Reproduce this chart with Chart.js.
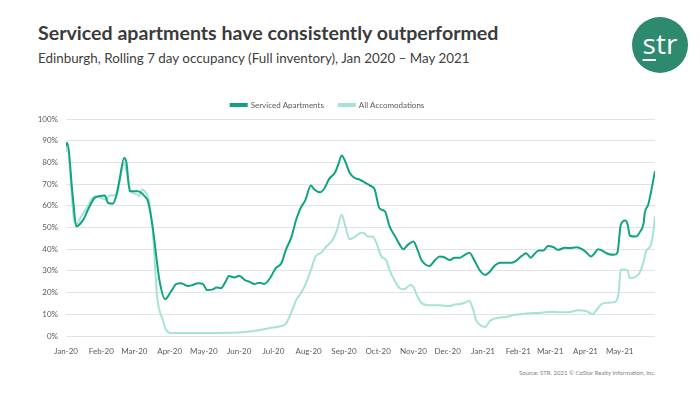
<!DOCTYPE html>
<html>
<head>
<meta charset="utf-8">
<script src="https://cdn.jsdelivr.net/npm/chart.js"></script>
<style>
  html, body { margin: 0; padding: 0; background: #fff; }
  body { width: 700px; height: 394px; position: relative; overflow: hidden; font-family: Lato, "Open Sans", sans-serif; }
  #title { position: absolute; left: 38px; top: 21px; font-size: 19.6px; font-weight: bold; color: #3b3b3b; white-space: nowrap; }
  #subtitle { position: absolute; left: 38px; top: 50px; font-size: 13.4px; color: #404040; white-space: nowrap; }
  #logo { position: absolute; left: 632px; top: 17px; width: 56px; height: 56px; border-radius: 50%; background: #2e8a6e; color: #fff;
          font-size: 28px; line-height: 52px; text-align: center; font-family: "Open Sans", sans-serif; }
  #logo u { text-decoration-thickness: 2px; text-underline-offset: 5px; }
  #source { position: absolute; left: 519px; top: 369px; font-size: 6px; color: #7f7f7f; white-space: nowrap; }
  #wrap { position: absolute; left: 0; top: 0; width: 700px; height: 394px; }
</style>
</head>
<body>
<div id="title">Serviced apartments have consistently outperformed</div>
<div id="subtitle">Edinburgh, Rolling 7 day occupancy (Full inventory), Jan 2020 – May 2021</div>
<div id="logo"><u>s</u>tr</div>
<div id="source">Source: STR. 2021 © CoStar Realty Information, Inc.</div>
<div id="wrap"><canvas id="chart" width="700" height="394"></canvas></div>
<script>
// days counted from 1 Jan 2020
const monthLabels = ['Jan-20','Feb-20','Mar-20','Apr-20','May-20','Jun-20','Jul-20','Aug-20','Sep-20','Oct-20','Nov-20','Dec-20','Jan-21','Feb-21','Mar-21','Apr-21','May-21'];
const monthStartDays = [0,31,60,91,121,152,182,213,244,274,305,335,366,397,425,456,486];

const servicedDays = [0,1,6,9,15,20,25,29,34,37,41,44,47,51,53,56,63,66,69,72,76,82,87,92,97,101,107,111,116,120,124,129,132,136,140,143,148,152,157,161,165,170,174,179,184,189,193,198,202,206,210,215,218,223,227,231,236,239,242,245,249,253,258,262,267,271,275,280,284,289,293,296,300,305,308,312,316,319,324,328,332,337,341,346,350,354,359,363,368,372,376,381,387,391,395,400,404,408,411,415,419,423,428,432,438,442,448,453,457,461,464,467,472,476,481,484,487,491,493,495,500,504,507,508,511,513,517];
const servicedVals = [87.5,89,64,50.5,53.5,59,63.6,64.4,64.7,61.3,61,64.4,72,82,80,66.7,66.7,66,64.4,62,50.5,25.8,17,20.4,24,24.3,23,23.5,24.3,24,21.2,21.5,22.4,22,25,27.6,27,27.8,25.8,25,24,24.5,24,26.6,31.2,33.5,39.7,45.8,53.6,59,62.5,69.3,67.5,66.2,68.2,72.4,75.2,79,83.2,80.6,75.2,72.9,72,70.8,69.3,67.5,59,57.4,50.5,45.8,42,40,42,43.5,40.5,35,32.7,32.3,35,36.6,36.3,35,36.1,36.1,37.4,38.4,34.3,30.4,28.1,29.6,32.3,33.8,33.8,33.8,34.6,36.9,38.1,36.1,37.7,39.4,39.4,41.5,40.9,39.7,40.7,40.5,40.9,40,38.4,36.6,38.1,40,38.9,37.8,37.4,38.4,51.3,53.2,51.3,46.2,45.8,48.1,52,56.7,60.5,65.1,76];

const allDays = [0,1,7,9,13,19,23,26,31,35,38,42,45,49,51,55,57,63,64,67,70,73,76,80,85,88,92,120,150,165,179,188,193,198,202,206,210,215,219,224,228,234,238,242,245,249,253,258,261,265,269,272,277,281,284,289,293,297,302,305,308,312,318,324,328,332,337,341,346,350,354,357,360,365,368,372,376,381,387,392,398,407,415,423,432,441,450,455,460,462,466,470,476,482,485,487,491,493,495,500,504,507,509,513,515,517];
const allVals = [84.7,87.5,53.6,51.5,54.8,59.7,63.6,64.4,63.6,62.8,64.7,64.7,65.9,76.7,79.8,70.6,66.7,65.1,64.4,67.5,66,62,49,18,7.3,2.6,1.4,1.4,1.6,2.3,3.7,4.5,5.7,11.1,16.5,19.6,23.5,30.4,36.6,38.4,40.9,44.3,49,55.9,51,44.6,45.5,47.4,47.6,45.8,45.8,43.5,36.6,35,30.4,25,22,21.5,23.5,22.7,18.8,15.3,14.2,14.2,14.2,13.9,13.8,14.5,14.7,15.3,16.2,12.7,7.3,4.5,4.2,6.9,8,8.5,8.8,9.6,10,10.5,10.6,11.1,11,10.9,11.9,11.6,10.6,10,12.2,14.7,15.3,15.7,19.6,30.7,30.7,30.2,26.6,27.3,29.6,34.3,38.9,41.5,45.8,55.4];

const toPoints = (xs, ys) => xs.map((d, i) => ({ x: d, y: ys[i] }));
const tickFont = { family: 'Lato, "Open Sans", sans-serif', size: 8 };

new Chart(document.getElementById('chart'), {
  type: 'line',
  data: {
    datasets: [{
      label: 'Serviced Apartments',
      data: toPoints(servicedDays, servicedVals),
      borderColor: '#0fa383',
      backgroundColor: '#0fa383',
      borderWidth: 2,
      pointRadius: 0,
      cubicInterpolationMode: 'monotone'
    }, {
      label: 'All Accomodations',
      data: toPoints(allDays, allVals),
      borderColor: '#a6e3d6',
      backgroundColor: '#a6e3d6',
      borderWidth: 2,
      pointRadius: 0,
      cubicInterpolationMode: 'monotone'
    }]
  },
  options: {
    responsive: false,
    animation: false,
    layout: { padding: { top: 86, right: 45, bottom: 34, left: 0 } },
    plugins: {
      legend: {
        labels: { boxWidth: 16, boxHeight: 2, padding: 15, color: '#595959', font: tickFont }
      },
      tooltip: { enabled: false }
    },
    scales: {
      x: {
        type: 'linear', min: 0, max: 517,
        grid: { display: false },
        border: { display: false },
        afterBuildTicks: s => { s.ticks = monthStartDays.map(v => ({ value: v })); },
        afterFit: s => { s.height = 24; },
        ticks: { autoSkip: false, maxRotation: 0, color: '#595959', font: tickFont,
                 callback: (v, i) => monthLabels[i] }
      },
      y: {
        min: 0, max: 100,
        afterFit: s => { s.width = 66; },
        grid: { color: '#e3e3e3', drawTicks: false },
        border: { display: false },
        ticks: { stepSize: 10, padding: 8, color: '#595959', font: tickFont, callback: v => v + '%' }
      }
    }
  }
});
</script>
</body>
</html>
